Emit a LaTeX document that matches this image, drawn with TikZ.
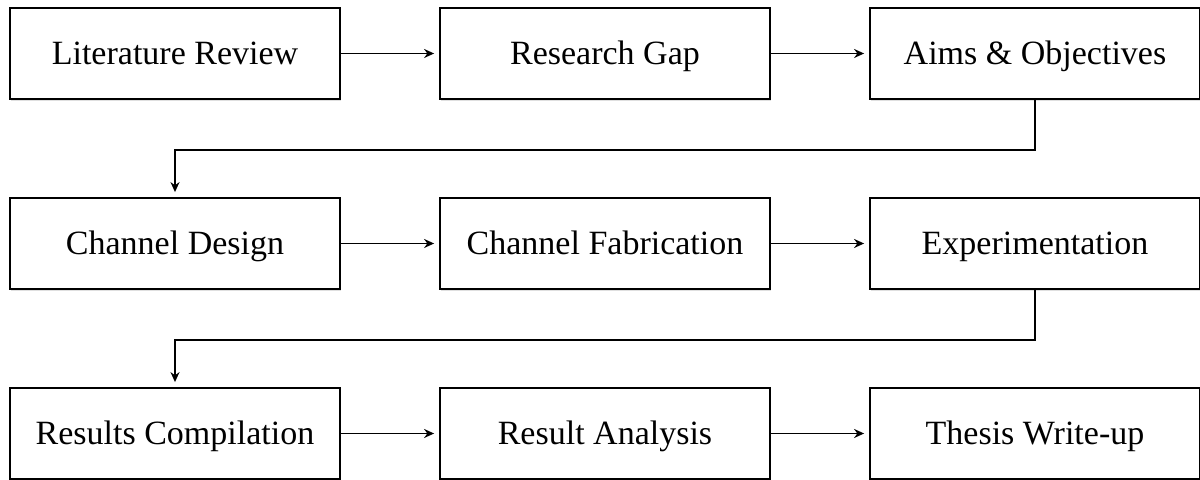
\documentclass[tikz,border=0pt]{standalone}
\usepackage{fontspec}
\setmainfont{Liberation Serif}
\usetikzlibrary{arrows.meta,shadows}
\tikzset{
  stagebox/.style={draw, line width=0.9pt, fill=white, minimum width=165pt,
    minimum height=45.5pt, inner sep=0pt, text height=11.5pt, text depth=0pt,
    font=\fontsize{17}{20}\selectfont,
    drop shadow={opacity=0.25, shadow xshift=0.6pt, shadow yshift=-0.8pt}},
  flow/.style={-{Stealth[length=5pt,width=4.5pt]}, line width=0.85pt, shorten >=2.5pt}
}

\begin{document}
\begin{tikzpicture}
    \useasboundingbox (0,0) rectangle (600pt,-240pt);
    \foreach \n/\x/\y/\lbl in {
      lit/87.5/-26.75/{Literature Review},
      gap/302.5/-26.75/{Research Gap},
      aims/517.5/-26.75/{Aims \& Objectives},
      des/87.5/-121.75/{Channel Design},
      fab/302.5/-121.75/{Channel Fabrication},
      exp/517.5/-121.75/{Experimentation},
      res/87.5/-216.75/{Results Compilation},
      ana/302.5/-216.75/{Result Analysis},
      thesis/517.5/-216.75/{Thesis Write-up}}{
      \node[stagebox] (\n) at (\x pt,\y pt) {\lbl};
    }
    \foreach \a/\b in {lit/gap, gap/aims, des/fab, fab/exp, res/ana, ana/thesis}
      \draw[flow] (\a) -- (\b);
    \draw[flow] (aims.south) -- ++(0,-25pt) -| (des.north);
    \draw[flow] (exp.south) -- ++(0,-25pt) -| (res.north);
  \end{tikzpicture}
\end{document}
